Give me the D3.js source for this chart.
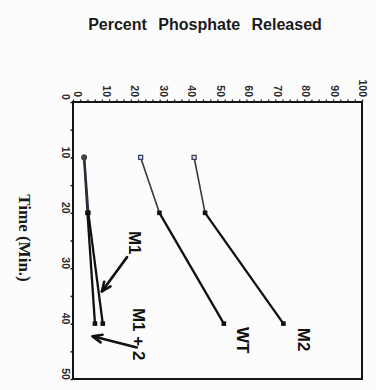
<!DOCTYPE html>
<html>
<head>
<meta charset="utf-8">
<script src="https://cdn.jsdelivr.net/npm/d3@7"></script>
<style>
  html, body { margin: 0; padding: 0; background: #fcfcfc; }
  svg { display: block; }
</style>
</head>
<body>
<script>
// ---- data ----
const times = [10, 20, 40];
const seriesNames = ["M2", "WT", "M1", "M1 + 2"];
const M2 = [41.9, 45.7, 72.8];
const WT = [23.4, 29.9, 52.2];
const M1 = [3.9, 5.3, 10.3];
const M1plus2 = [3.8, 5.0, 7.6];
const valueTicks = [0, 10, 20, 30, 40, 50, 60, 70, 80, 90, 100];
const timeTicks = [0, 10, 20, 30, 40, 50];
// label anchors for series (time, percent)
const seriesLabels = [
  { text: "M2", t: 42.9, v: 79.6 },
  { text: "WT", t: 43.0, v: 58.8 },
  { text: "M1", t: 25.4, v: 21.2 },
  { text: "M1 + 2", t: 41.9, v: 22.6 }
];
const arrows = [
  { from: [28.0, 18.7], to: [34.2, 10.0] },
  { from: [44.3, 22.1], to: [42.3, 6.8] }
];

const W = 376, H = 390;
const svg = d3.select("body").append("svg").attr("width", W).attr("height", H);
svg.append("rect").attr("width", W).attr("height", H).attr("fill", "#fcfcfc");

// horizontal = percent, vertical = time
const x = d3.scaleLinear().domain([0, 100]).range([73, 362]);
const y = d3.scaleLinear().domain([0, 50]).range([102, 379]);
const xLabel = d3.scaleLinear().domain([0, 100]).range([78, 363]);

// title
svg.append("text")
  .attr("x", 205).attr("y", 29.5)
  .attr("text-anchor", "middle")
  .attr("font-family", "Liberation Sans, Arial, sans-serif")
  .attr("font-weight", "bold")
  .attr("font-size", 16)
  .attr("word-spacing", 7)
  .attr("fill", "#1a1a1a")
  .text("Percent Phosphate Released");

// time axis title
svg.append("text")
  .attr("transform", "translate(24,238) rotate(90)")
  .attr("text-anchor", "middle")
  .attr("dominant-baseline", "central")
  .attr("font-family", "Liberation Serif, Times New Roman, serif")
  .attr("font-weight", "bold")
  .attr("font-size", 17)
  .attr("fill", "#1a1a1a")
  .text("Time (Min.)");

// top axis (percent) ticks
const topAxis = d3.axisTop(x)
  .tickValues(d3.range(0, 100.01, 2.5))
  .tickSize(2.5)
  .tickFormat("");
const gTop = svg.append("g").attr("transform", `translate(0,${y(0)})`).call(topAxis);
gTop.select(".domain").remove();
gTop.selectAll("line").attr("stroke", "#222").attr("stroke-width", 1.3);

// left axis (time) ticks
const leftAxis = d3.axisLeft(y)
  .tickValues(d3.range(0, 50.01, 5))
  .tickSize(2.5)
  .tickFormat("");
const gLeft = svg.append("g").attr("transform", `translate(${x(0)},0)`).call(leftAxis);
gLeft.select(".domain").remove();
gLeft.selectAll("line").attr("stroke", "#222").attr("stroke-width", 1.5);

// frame
svg.append("rect")
  .attr("x", x(0)).attr("y", y(0))
  .attr("width", x(100) - x(0)).attr("height", y(50) - y(0))
  .attr("fill", "none").attr("stroke", "#151515").attr("stroke-width", 2);

// percent tick labels (rotated)
svg.append("g").selectAll("text").data(valueTicks).join("text")
  .attr("transform", d => `translate(${xLabel(d)},97) rotate(90)`)
  .attr("text-anchor", "end")
  .attr("dominant-baseline", "central")
  .attr("font-family", "Liberation Sans Narrow, Liberation Sans, Arial, sans-serif")
  .attr("font-weight", "bold")
  .attr("font-size", 10.5)
  .attr("fill", "#2a2a2a")
  .text(d => d);

// time tick labels (rotated)
svg.append("g").selectAll("text").data(timeTicks).join("text")
  .attr("transform", d => `translate(66,${y(d) - 5}) rotate(90)`)
  .attr("text-anchor", "middle")
  .attr("dominant-baseline", "central")
  .attr("font-family", "Liberation Sans Narrow, Liberation Sans, Arial, sans-serif")
  .attr("font-weight", "bold")
  .attr("font-size", 10.5)
  .attr("fill", "#2a2a2a")
  .text(d => d);

// series
const allSeries = [
  { name: "M2", vals: M2, first: "square" },
  { name: "WT", vals: WT, first: "square" },
  { name: "M1", vals: M1, first: "circle" },
  { name: "M1 + 2", vals: M1plus2, first: "circle" }
];
const gS = svg.append("g");
allSeries.forEach(s => {
  const pts = times.map((t, i) => [x(s.vals[i]), y(t)]);
  // thin early segment
  gS.append("line")
    .attr("x1", pts[0][0]).attr("y1", pts[0][1])
    .attr("x2", pts[1][0]).attr("y2", pts[1][1])
    .attr("stroke", s.first === "circle" ? "#2a2f3a" : "#333846")
    .attr("stroke-width", s.first === "circle" ? 2.2 : 1.6);
  // thick later segment
  gS.append("line")
    .attr("x1", pts[1][0]).attr("y1", pts[1][1])
    .attr("x2", pts[2][0]).attr("y2", pts[2][1])
    .attr("stroke", "#111").attr("stroke-width", 2.3);
  // first marker
  if (s.first === "square") {
    gS.append("rect")
      .attr("x", pts[0][0] - 2).attr("y", pts[0][1] - 2)
      .attr("width", 4).attr("height", 4)
      .attr("fill", "#e8e8ee").attr("stroke", "#3a4060").attr("stroke-width", 1.3);
  } else {
    gS.append("circle")
      .attr("cx", pts[0][0]).attr("cy", pts[0][1]).attr("r", 2.8)
      .attr("fill", "#444");
  }
  // filled markers
  [1, 2].forEach(i => {
    gS.append("rect")
      .attr("x", pts[i][0] - 2.3).attr("y", pts[i][1] - 2.3)
      .attr("width", 4.6).attr("height", 4.6)
      .attr("fill", "#111");
  });
});

// series labels (rotated)
svg.append("g").selectAll("text").data(seriesLabels).join("text")
  .attr("transform", d => `translate(${x(d.v)},${y(d.t)}) rotate(90)`)
  .attr("text-anchor", "middle")
  .attr("dominant-baseline", "central")
  .attr("font-family", "Liberation Sans, Arial, sans-serif")
  .attr("font-weight", "bold")
  .attr("font-size", 17)
  .attr("fill", "#111")
  .text(d => d.text);

// arrows
const gA = svg.append("g").attr("stroke", "#111").attr("fill", "none")
  .attr("stroke-width", 2.6).attr("stroke-linecap", "round");
arrows.forEach(a => {
  const x1 = x(a.from[1]), y1 = y(a.from[0]);
  const x2 = x(a.to[1]), y2 = y(a.to[0]);
  gA.append("line").attr("x1", x1).attr("y1", y1).attr("x2", x2).attr("y2", y2);
  const ang = Math.atan2(y1 - y2, x1 - x2);
  const L = 10, spread = 0.4;
  const p = [ang - spread, ang + spread].map(a2 => [x2 + L * Math.cos(a2), y2 + L * Math.sin(a2)]);
  gA.append("path")
    .attr("d", `M${p[0][0]},${p[0][1]} L${x2},${y2} L${p[1][0]},${p[1][1]}`)
    .attr("stroke-linejoin", "round");
});
</script>
</body>
</html>
